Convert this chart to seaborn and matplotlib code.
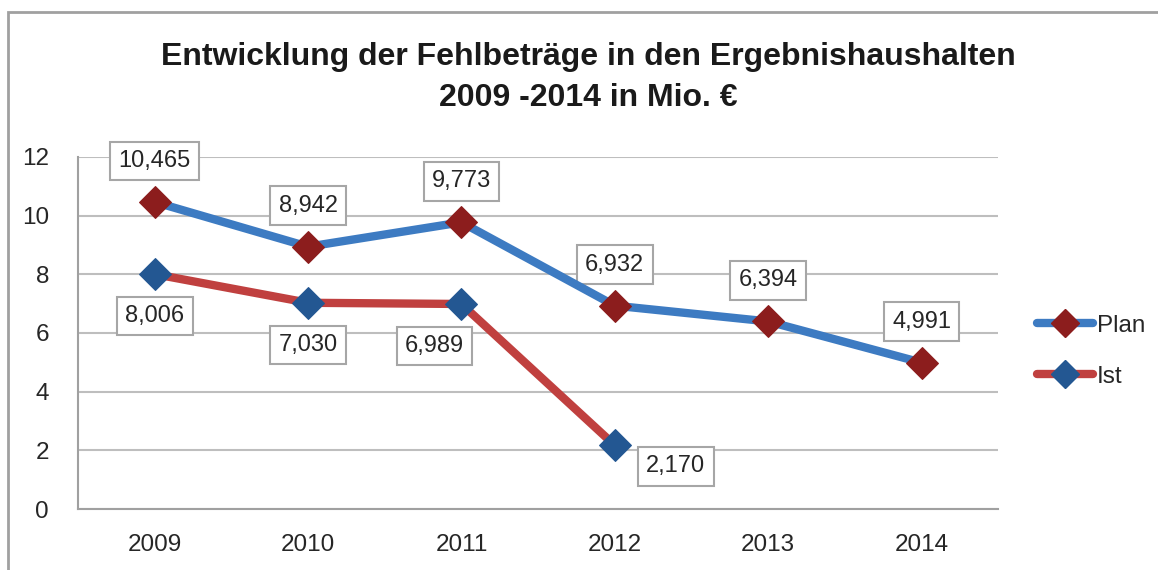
import numpy as np
import pandas as pd
import seaborn as sns
import matplotlib.pyplot as plt
from matplotlib.patches import Rectangle
from matplotlib.lines import Line2D

# Daten (Mio. €)
jahre = ['2009', '2010', '2011', '2012', '2013', '2014']
plan = [10.465, 8.942, 9.773, 6.932, 6.394, 4.991]
ist = [8.006, 7.030, 6.989, 2.170, np.nan, np.nan]

sns.set_style('white')
plt.rcParams['font.family'] = ['Liberation Sans', 'DejaVu Sans']

df = pd.DataFrame({'pos': range(len(jahre)), 'Plan': plan, 'Ist': ist})

fig = plt.figure(figsize=(11.58, 5.70), dpi=100)
ax = fig.add_axes([0.0674, 0.107, 0.7946, 0.6176])

blau = '#3D7BC2'
rot = '#C0403F'
dunkelrot = '#8C1D1D'
dunkelblau = '#235792'

sns.lineplot(data=df, x='pos', y='Plan', ax=ax, color=blau, lw=6, marker='D',
             markersize=16, markerfacecolor=dunkelrot, markeredgecolor=dunkelrot, zorder=4)
sns.lineplot(data=df.dropna(), x='pos', y='Ist', ax=ax, color=rot, lw=6, marker='D',
             markersize=16, markerfacecolor=dunkelblau, markeredgecolor=dunkelblau, zorder=4)

def fmt(v):
    return f'{v:.3f}'.replace('.', ',')

box = dict(boxstyle='square,pad=0.35', fc='white', ec='#A6A6A6', lw=1.5)
for i, v in enumerate(plan):
    ax.annotate(fmt(v), (i, v), xytext=(0, 41), textcoords='offset pixels',
                ha='center', va='center', fontsize=17, color='#262626', bbox=box, zorder=3)
ist_offsets = [(0, -42), (0, -42), (-27, -42), (61, -21)]
for i, v in enumerate(ist):
    if np.isnan(v):
        continue
    ax.annotate(fmt(v), (i, v), xytext=ist_offsets[i], textcoords='offset pixels',
                ha='center', va='center', fontsize=17, color='#262626', bbox=box, zorder=3)

ax.set_xlim(-0.5, len(jahre) - 0.5)
ax.set_ylim(0, 12)
ax.set_yticks(range(0, 13, 2))
ax.set_xticks(range(len(jahre)))
ax.set_xticklabels(jahre)
ax.set_xticks(np.arange(-0.5, len(jahre)), minor=True)
ax.tick_params(axis='x', which='major', length=0, pad=18, labelsize=17.5, labelcolor='#262626')
ax.tick_params(axis='x', which='minor', length=8, width=1.5, color='#A0A0A0', direction='out')
ax.tick_params(axis='y', length=8, width=1.5, color='#A0A0A0', direction='out', pad=13,
               labelsize=17.5, labelcolor='#262626')
ax.set_xlabel('')
ax.set_ylabel('')
ax.yaxis.grid(True, color='#BEBEBE', lw=1.5)
ax.set_axisbelow(True)
for s in ['top', 'right']:
    ax.spines[s].set_visible(False)
for s in ['left', 'bottom']:
    ax.spines[s].set_color('#A0A0A0')
    ax.spines[s].set_linewidth(1.5)

fig.text(0.508, 0.864, 'Entwicklung der Fehlbeträge in den Ergebnishaushalten\n2009 -2014 in Mio. €',
         ha='center', va='center', fontsize=23, fontweight='bold', color='#1A1A1A', linespacing=1.5)

handles = [Line2D([], [], color=blau, lw=6, marker='D', markersize=14, markerfacecolor=dunkelrot,
                  markeredgecolor=dunkelrot, solid_capstyle='round'),
           Line2D([], [], color=rot, lw=6, marker='D', markersize=14, markerfacecolor=dunkelblau,
                  markeredgecolor=dunkelblau, solid_capstyle='round')]
fig.legend(handles, ['Plan', 'Ist'], loc='center left', bbox_to_anchor=(0.877, 0.384), frameon=False,
           fontsize=17.5, handlelength=2.3, handletextpad=0.15, labelspacing=1.2)

fig.patches.append(Rectangle((8 / 1158, -0.05), 1.2, 1 - 12 / 570 + 0.05, transform=fig.transFigure,
                             fill=False, ec='#A0A0A0', lw=2))

fig.savefig('out.png', dpi=100)
